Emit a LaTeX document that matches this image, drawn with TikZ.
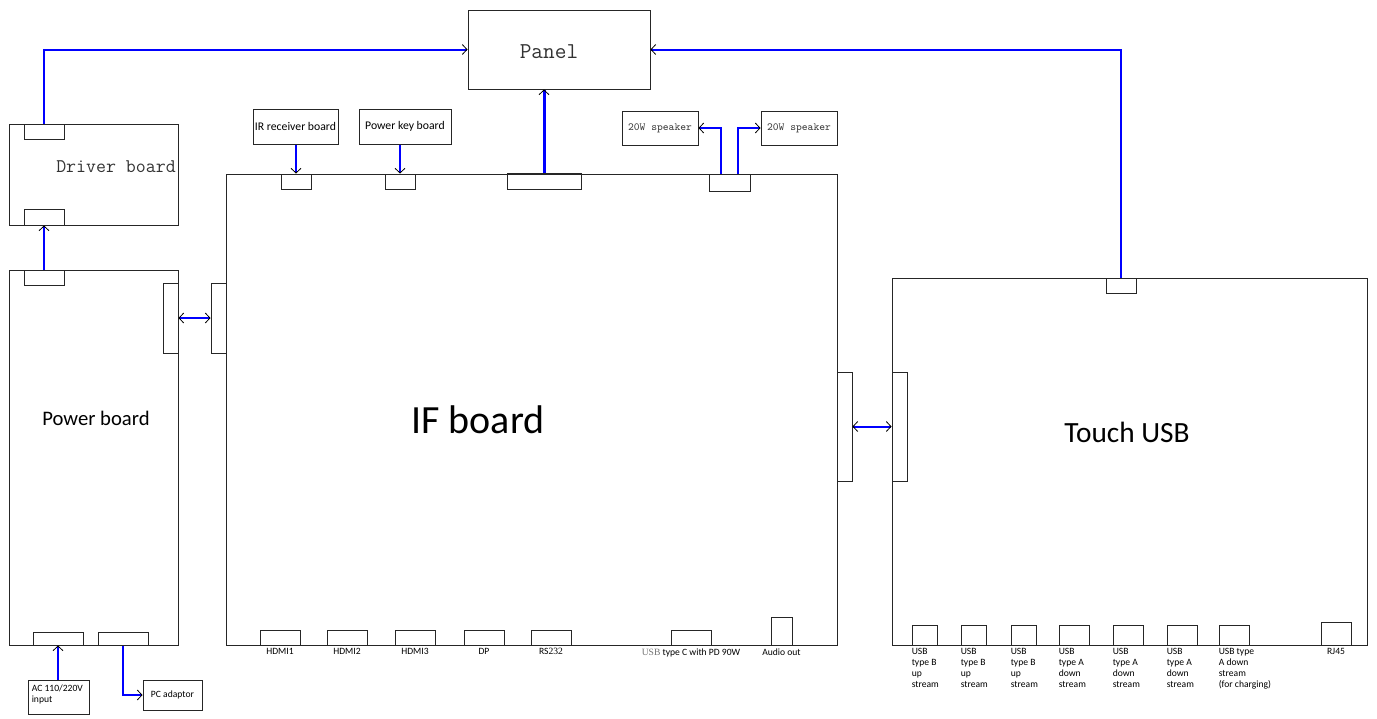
\documentclass[tikz,border=0pt]{standalone}
\usepackage{fontspec}
\setmainfont{Carlito}
\usetikzlibrary{arrows.meta}
% a box from its corners (x1,y1)-(x2,y2), in pixels
\newcommand\blk[6][]{\node[blk,#1,minimum width={(#4-#2)*0.75pt},minimum height={(#5-#3)*0.75pt}] (#6) at ({(#2+#4)/2},{(#3+#5)/2}) {};}
\begin{document}
\begin{tikzpicture}[x=0.75pt,y=-0.75pt,
  >={Straight Barb[color=black,length=3.5pt,width=7.5pt,line width=0.6pt]},
  blk/.style={draw=black!85,line width=0.75pt,inner sep=0pt,rectangle},
  wire/.style={blue,line width=1.5pt},
  lbl/.style={font=\fontsize{7.2}{8.25}\selectfont,inner sep=0pt}]
\useasboundingbox (0,0) rectangle (1377,718);
% boards
\blk{468}{10}{650}{89}{panel}
\blk{9}{124}{178}{225}{drv}
\blk{9}{270}{178}{645}{pwr}
\blk{226}{174}{837}{645}{ifb}
\blk{892}{278}{1367}{645}{tch}
\blk{253}{109}{338}{144}{ir}
\blk{359}{109}{451}{144}{pk}
\blk{622}{111}{698}{145}{spl}
\blk{761}{111}{837}{145}{spr}
\blk{28}{680}{89}{714}{ac}
\blk{143}{680}{202}{710}{pc}
\node[font=\ttfamily\fontsize{17}{17}\selectfont,text=black!80] (panelt) at (549,52) {Panel};
\node[font=\ttfamily\fontsize{14.5}{15}\selectfont,text=black!80] (drvt) at (116,167) {Driver board};
\node[font=\fontsize{15.5}{16}\selectfont] (pwrt) at (96,418) {Power board};
\node[font=\fontsize{30}{30}\selectfont] (ifbt) at (478,420) {IF board};
\node[font=\fontsize{22}{22}\selectfont] (tcht) at (1127,432) {Touch USB};
\node[font=\fontsize{8.8}{9}\selectfont,inner sep=0pt] (irt) at (ir) {IR receiver board};
\node[font=\fontsize{8.8}{9}\selectfont,inner sep=0pt] (pkt) at (pk) {Power key board};
\node[font=\ttfamily\fontsize{8.2}{9}\selectfont,text=black!75,inner sep=0pt] (splt) at (spl) {20W speaker};
\node[font=\ttfamily\fontsize{8.2}{9}\selectfont,text=black!75,inner sep=0pt] (sprt) at (spr) {20W speaker};
\node[lbl,anchor=north west,align=left] (act) at ([xshift=3pt,yshift=-4pt]ac.north west) {AC 110/220V\\input};
\node[lbl] (pct) at (pc) {PC adaptor};
% connectors
\blk{24}{124}{64}{139}{drvtop}
\blk{24}{209}{64}{225}{drvbot}
\blk{24}{270}{64}{285}{pwtop}
\blk{163}{283}{178}{353}{pwrr}
\blk{33}{632}{83}{645}{pwb1}
\blk{98}{632}{148}{645}{pwb2}
\blk{211}{283}{226}{353}{ifl}
\blk{837}{372}{852}{481}{ifr}
\blk{281}{174}{311}{189}{irc}
\blk{385}{174}{415}{189}{pkc}
\blk{507}{173}{581}{189}{ifpan}
\blk{709}{174}{750}{191}{spkc}
\blk{892}{372}{907}{481}{tchl}
\blk{1106}{278}{1136}{293}{tchtop}
\foreach \a/\n/\t in {260/hdmi1/HDMI1,327/hdmi2/HDMI2,395/hdmi3/HDMI3,464/dp/DP,531/rs/{RS{\fontspec{Liberation Serif}232}},671/usbc/{{\fontspec{Liberation Serif}\color{black!55}USB} type C with PD 90W}}
  {\blk{\a}{630}{\a+40}{645}{\n} \node[lbl,below=2pt] (\n t) at (\n.south) {\t};}
\blk{771}{617}{792}{645}{aud}
\node[lbl,below=2pt] (audt) at (aud.south) {Audio out};
\foreach \a/\w/\n/\t in {912/25/tb1/{USB\\type B\\up\\stream},961/25/tb2/{USB\\type B\\up\\stream},1011/25/tb3/{USB\\type B\\up\\stream},1059/30/ta1/{USB\\type A\\down\\stream},1113/30/ta2/{USB\\type A\\down\\stream},1167/30/ta3/{USB\\type A\\down\\stream},1219/30/tc/{USB type\\A down\\stream\\(for charging)}}
  {\blk{\a}{625}{\a+\w}{645}{\n} \node[lbl,anchor=north west,align=left] (\n t) at ([yshift=-2pt]\n.south west) {\t};}
\blk{1321}{622}{1351}{645}{rj}
\node[lbl,below=2pt] (rjt) at (rj.south) {RJ45};
% wires
\draw[wire,->] (drvtop.north) |- (panel.west);
\draw[wire,->] (tchtop.north) |- (panel.east);
\draw[wire,->,line width=2.25pt] (ifpan.north) -- (ifpan.north |- panel.south);
\draw[wire,->] (ir.south -| irc.north) -- (irc.north);
\draw[wire,->] (pk.south -| pkc.north) -- (pkc.north);
\draw[wire,->] ([xshift=-6.4pt]spkc.north) |- (spl.east);
\draw[wire,->] ([xshift=6.4pt]spkc.north) |- (spr.west);
\draw[wire,->] (pwtop.north) -- (drvbot.south);
\draw[wire,<->] (pwrr.east) -- (ifl.west);
\draw[wire,<->] (ifr.east) -- (tchl.west);
\draw[wire,->] (ac.north -| pwb1.south) -- (pwb1.south);
\draw[wire,->] (pwb2.south) |- (pc.west);
\end{tikzpicture}
\end{document}
